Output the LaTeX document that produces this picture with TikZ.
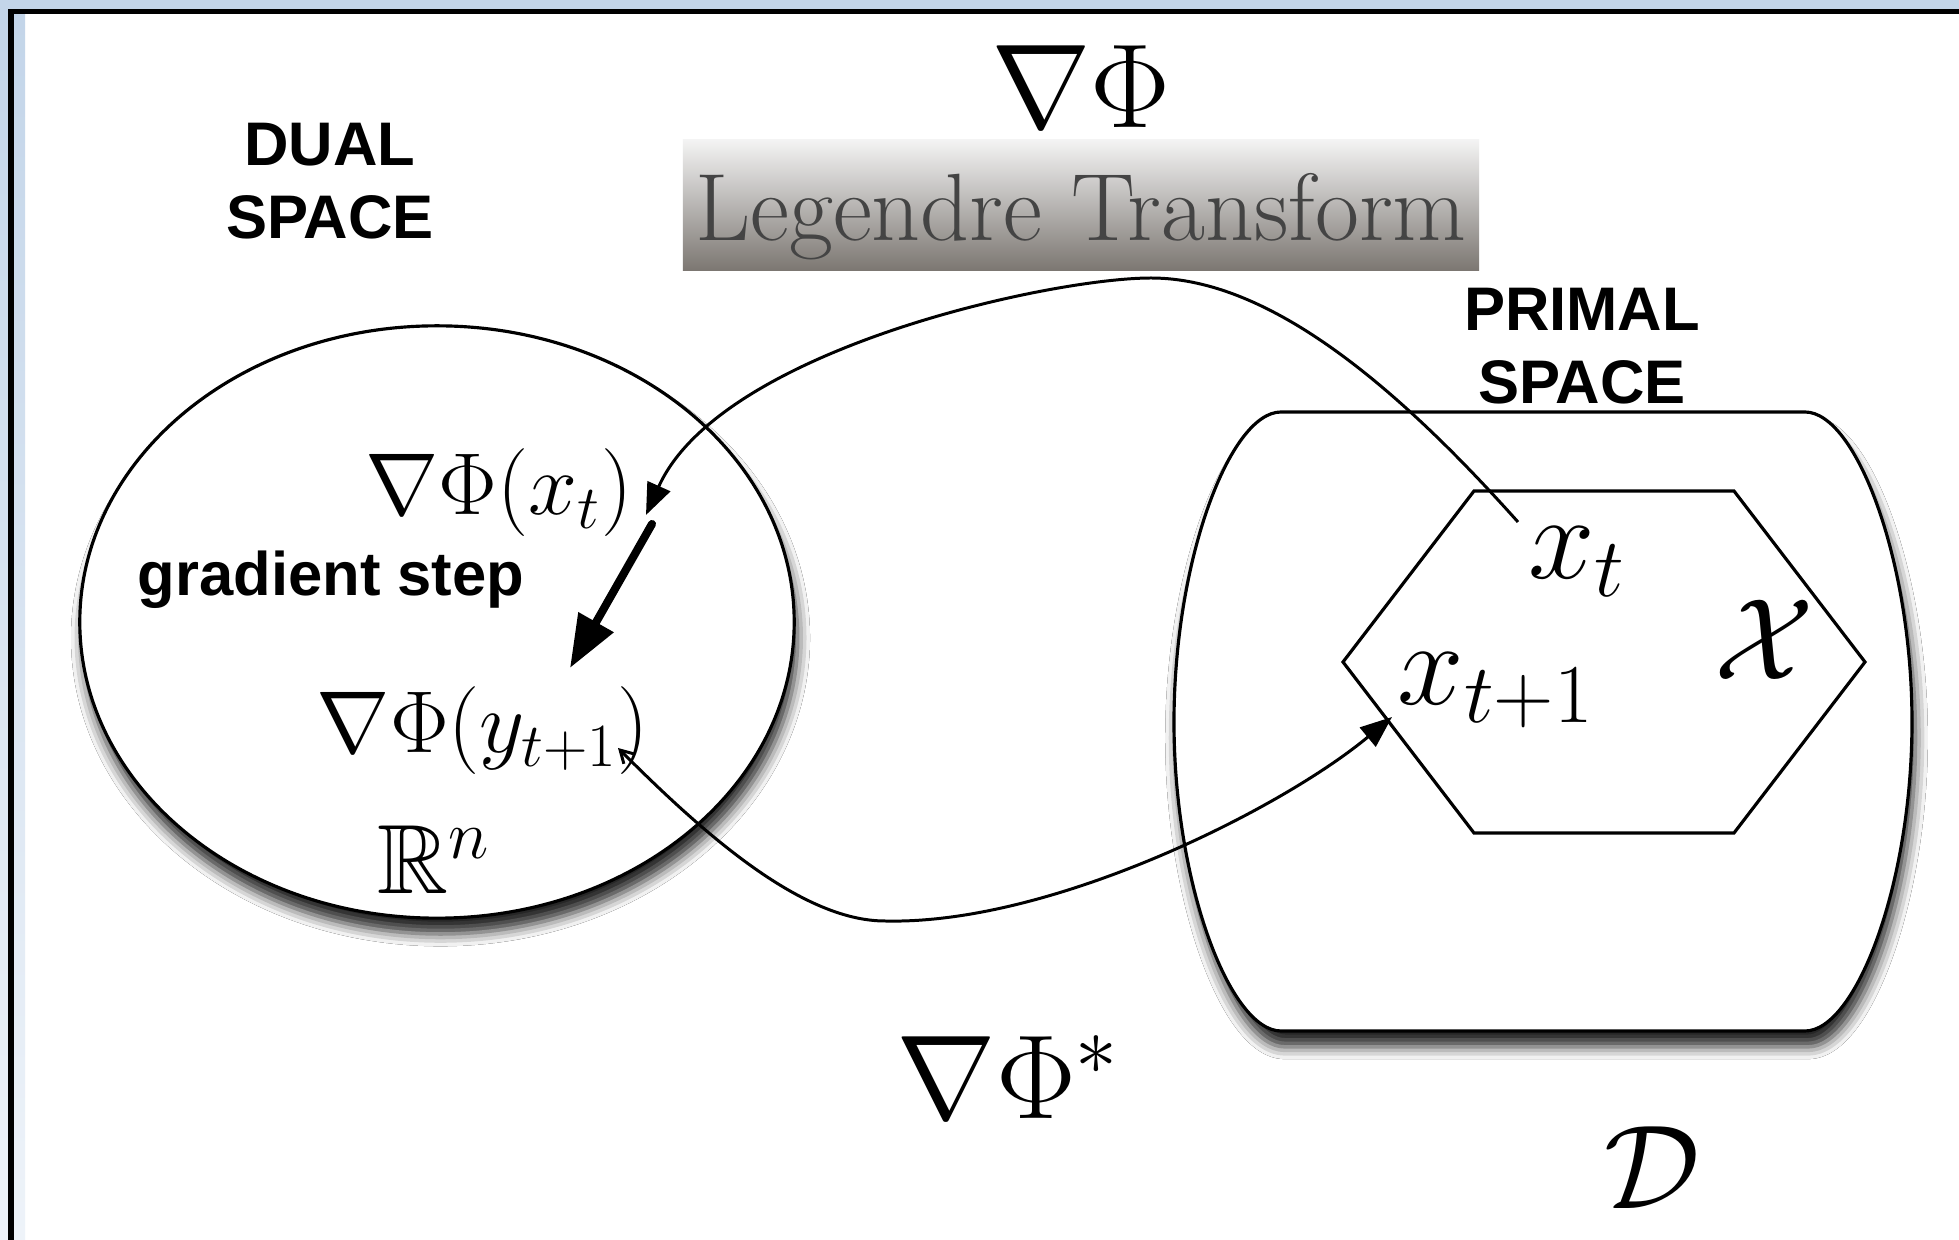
\RequirePackage{fix-cm}
\documentclass[tikz,border=0pt]{standalone}
\usepackage{amsmath,amssymb}
\usepackage{fontspec}
\setsansfont{Liberation Sans}
\usepackage{tikz}
\usetikzlibrary{shapes.geometric, arrows.meta, positioning, shadows.blur}
\definecolor{winblue}{RGB}{195,213,233}
\definecolor{winpale}{RGB}{238,243,249}
\definecolor{legtop}{RGB}{244,244,244}
\definecolor{legbot}{RGB}{124,119,114}
\definecolor{legtext}{RGB}{68,68,68}
\tikzset{
  setshadow/.style={blur shadow={shadow xshift=1pt, shadow yshift=-4.5pt,
    shadow blur radius=3.5pt, shadow opacity=85}},
  dualset/.style={ellipse, draw, fill=white, line width=0.9pt,
    minimum width=7.14cm, minimum height=5.92cm, setshadow},
  primalset/.style={draw, fill=white, line width=0.9pt, setshadow},
  polyset/.style={draw, line width=0.9pt, line join=miter},
  spacelabel/.style={font=\sffamily\bfseries\fontsize{17.5}{20.7}\selectfont,
    align=center, inner sep=0pt},
  biglabel/.style={font=\fontsize{34}{40}\selectfont, inner sep=0pt},
  midlabel/.style={font=\fontsize{25}{30}\selectfont, inner sep=0pt},
  legendbox/.style={rectangle, top color=legtop, bottom color=legbot,
    text=legtext, minimum width=7.96cm, text height=1.01cm, text depth=0.30cm,
    font=\fontsize{27.2}{32}\selectfont, inner sep=0pt},
  maparrow/.style={-{Triangle[length=9pt, width=7pt, fill=black]},
    line width=0.85pt},
  backarrow/.style={maparrow,
    {Straight Barb[length=3.5pt, width=4pt]}-{Triangle[length=9pt, width=7pt, fill=black]}},
  steparrow/.style={-{Triangle[length=15pt, width=11pt, fill=black]},
    line width=2.3pt, line cap=round}
}

\begin{document}
\begin{tikzpicture}[x=0.01cm, y=-0.01cm]
  \useasboundingbox (0,0) rectangle (1959,1240);
  % window frame
  \fill[white] (0,0) rectangle (1959,1240);
  \fill[winblue] (0,0) rectangle (1959,9);
  \shade[top color=winblue, bottom color=winpale] (0,9) rectangle (8,1240);
  \shade[top color=winblue, bottom color=winpale] (14,14) rectangle (25,1240);
  \fill[black] (8,9) rectangle (1959,14);
  \fill[black] (8,9) rectangle (14,1240);

  % dual space
  \node[dualset] (dual) at (437,622) {};
  \node[spacelabel] (duallbl) at (330,181) {DUAL\\SPACE};
  \node[midlabel] (gradx) at (499,493) {$\nabla\Phi(x_t)$};
  \node[spacelabel] (steplbl) at (331,580) {gradient step};
  \node[midlabel] (grady) at (483,731) {$\nabla\Phi(y_{t+1})$};
  \node[font=\fontsize{28}{32}\selectfont, inner sep=0pt] (rn) at (434,860) {$\mathbb{R}^n$};

  % primal space
  \draw[primalset] (1281,412) -- (1805,412)
    .. controls (1856,412) and (1912,560) .. (1912,722)
    .. controls (1912,884) and (1856,1031) .. (1805,1031) -- (1281,1031)
    .. controls (1230,1031) and (1174,884) .. (1174,722)
    .. controls (1174,560) and (1230,412) .. (1281,412) -- cycle;
  \draw[polyset] (1343,662) -- (1474,491) -- (1734,491) -- (1865,662)
    -- (1734,833) -- (1474,833) -- cycle;
  \node[spacelabel] (primlbl) at (1582,346) {PRIMAL\\SPACE};
  \node[biglabel] (xt) at (1577,562) {$x_t$};
  \node[biglabel] (xnext) at (1496,690) {$x_{t+1}$};
  \node[biglabel, font=\fontsize{33}{38}\selectfont] (setx) at (1764,640) {$\mathcal{X}$};
  \node[biglabel] (dom) at (1652,1168) {$\mathcal{D}$};

  % the two maps
  \node[biglabel] (phi) at (1081,87) {$\nabla\Phi$};
  \node[legendbox, below=0.1cm of phi] (legendre) {Legendre Transform};
  \node[biglabel] (phistar) at (1008,1077) {$\nabla\Phi^*$};

  \coordinate (xt-out) at (1518,522);
  \coordinate (gx-in) at (646,515);
  \coordinate (gy-out) at (618,748);
  \coordinate (xn-in) at (1392,717);
  \coordinate (step-from) at (652,524);
  \coordinate (step-to) at (570,668);

  \draw[maparrow] (xt-out) .. controls (1400,390) and (1271,278) .. (1151,278)
    .. controls (1050,278) and (720,350) .. (gx-in);
  \draw[backarrow] (gy-out) .. controls (700,830) and (800,921) .. (885,921)
    .. controls (1050,925) and (1280,810) .. (xn-in);
  \draw[steparrow] (step-from) -- (step-to);
\end{tikzpicture}
\end{document}
